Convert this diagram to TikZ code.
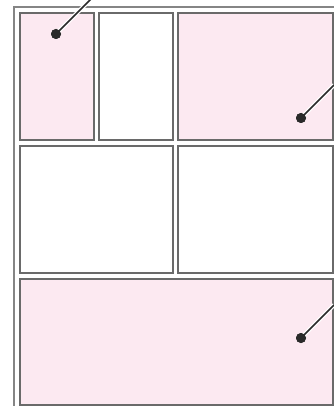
\documentclass[tikz,border=0pt]{standalone}
\usepackage{tikz}
\usetikzlibrary{positioning}
\definecolor{PanelPink}{HTML}{FCE9F1}
\definecolor{PanelEdge}{HTML}{6A6A6A}
\definecolor{FrameGray}{HTML}{858585}
\definecolor{LeaderDark}{HTML}{2A2A2A}

\begin{document}
\begin{tikzpicture}[
        x=1pt, y=-1pt,
        node distance=6pt and 5pt,
        panel/.style={
          draw=PanelEdge,
          line width=1.1pt,
          inner sep=0pt,
          outer sep=0pt,
          minimum height=127pt
        },
        pinkpanel/.style={panel, fill=PanelPink},
        whitepanel/.style={panel, fill=white},
        frame/.style={draw=FrameGray, line width=1.8pt},
        leader/.style={draw=LeaderDark, line width=1.7pt, line cap=round,
          preaction={draw=white, line width=4pt}},
        dotmark/.style={circle, fill=LeaderDark, inner sep=0pt, minimum size=10pt}
      ]
        \useasboundingbox (0,0) rectangle (333,406);

        % outer frame
        \draw[frame] (340,7) -- (14,7) -- (14,420);

        % panels
        \node[pinkpanel, minimum width=74pt, anchor=north west] (p1) at (20,13) {};
        \node[whitepanel, minimum width=74pt, right=of p1] (p2) {};
        \node[pinkpanel, minimum width=155pt, right=of p2] (p3) {};
        \node[whitepanel, minimum width=153pt, anchor=north west] (p4) at (20,146) {};
        \node[whitepanel, minimum width=155pt, right=of p4] (p5) {};
        \node[pinkpanel, minimum width=313pt, minimum height=126pt, anchor=north west] (p6) at (20,279) {};

        % leader dots
        \node[dotmark] (d1) at (56,34) {};
        \node[dotmark] (d2) at (301,118) {};
        \node[dotmark] (d3) at (301,338) {};
        \coordinate (e1) at (91,-1);
        \coordinate (e2) at (334,85);
        \coordinate (e3) at (334,305);

        \draw[leader] (d1.center) -- (e1);
        \draw[leader] (d2.center) -- (e2);
        \draw[leader] (d3.center) -- (e3);
        \node[dotmark] at (d1) {};
        \node[dotmark] at (d2) {};
        \node[dotmark] at (d3) {};
      \end{tikzpicture}
\end{document}
